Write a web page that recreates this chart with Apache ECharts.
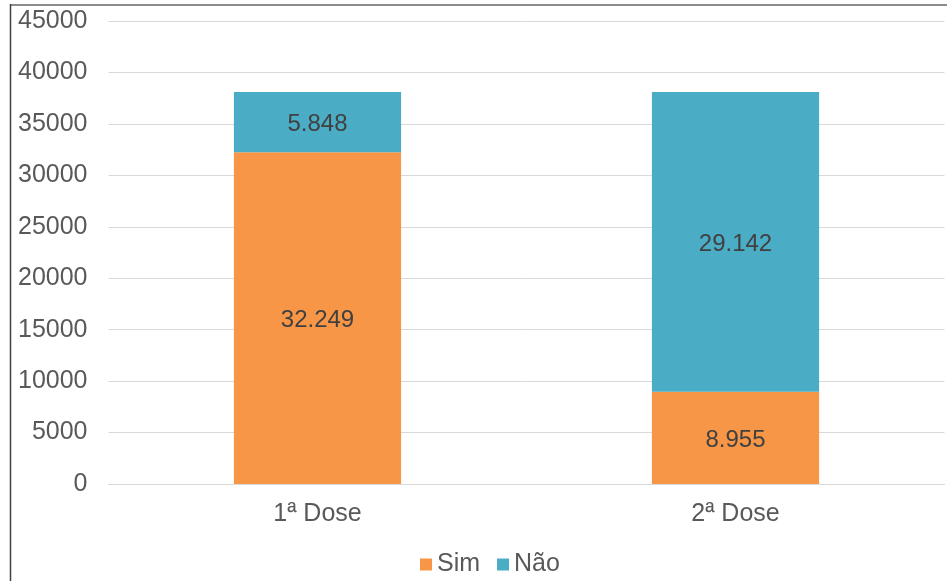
<!DOCTYPE html>
<html>
<head>
<meta charset="utf-8">
<script src="https://cdn.jsdelivr.net/npm/echarts@6/dist/echarts.min.js"></script>
<style>
html,body{margin:0;padding:0;background:#fff;}
#c{width:947px;height:581px;}
</style>
</head>
<body>
<div id="c"></div>
<script>
var categories = ['1ª Dose', '2ª Dose'];
var simValues = [32249, 8955];
var naoValues = [5848, 29142];
var seriesNames = ['Sim', 'Não'];

function fmt(v) {
  return String(v).replace(/\B(?=(\d{3})+(?!\d))/g, '.');
}

var chart = echarts.init(document.getElementById('c'));
var font = 'Liberation Sans, Arial, sans-serif';
chart.setOption({
  animation: false,
  textStyle: { fontFamily: font },
  grid: { left: 108.5, right: 2.5, top: 21, bottom: 97, containLabel: false },
  legend: {
    bottom: -1,
    left: 415,
    icon: 'rect',
    itemWidth: 12,
    itemHeight: 12,
    itemGap: 17,
    textStyle: { fontSize: 25, color: '#595959', fontFamily: font },
    data: seriesNames
  },
  xAxis: {
    type: 'category',
    data: categories,
    axisLine: { lineStyle: { color: '#D9D9D9', width: 1 } },
    axisTick: { show: false },
    axisLabel: { fontSize: 25, color: '#595959', margin: 18, fontFamily: font }
  },
  yAxis: {
    type: 'value',
    min: 0,
    max: 45000,
    interval: 5000,
    axisLine: { show: false },
    axisTick: { show: false },
    splitLine: { lineStyle: { color: '#D9D9D9', width: 1 } },
    axisLabel: { fontSize: 25, color: '#595959', margin: 21, fontFamily: font, padding: [3, 0, 0, 0],
      formatter: function (v) { return String(v); } }
  },
  series: [
    {
      name: seriesNames[0],
      type: 'bar',
      stack: 'total',
      barWidth: '40%',
      data: simValues,
      itemStyle: { color: '#F79646' },
      label: { show: true, position: 'inside', offset: [0, 2], fontSize: 24, color: '#404040', fontFamily: font,
        formatter: function (p) { return fmt(p.value); } }
    },
    {
      name: seriesNames[1],
      type: 'bar',
      stack: 'total',
      barWidth: '40%',
      data: naoValues,
      itemStyle: { color: '#4BACC6' },
      label: { show: true, position: 'inside', offset: [0, 2], fontSize: 24, color: '#404040', fontFamily: font,
        formatter: function (p) { return fmt(p.value); } }
    }
  ],
  graphic: [
    { type: 'line', shape: { x1: 10, y1: 5, x2: 947, y2: 5 }, style: { stroke: '#8C8C8C', lineWidth: 2 } },
    { type: 'line', shape: { x1: 10.5, y1: 4, x2: 10.5, y2: 581 }, style: { stroke: '#404040', lineWidth: 1.5 } }
  ]
});
</script>
</body>
</html>
